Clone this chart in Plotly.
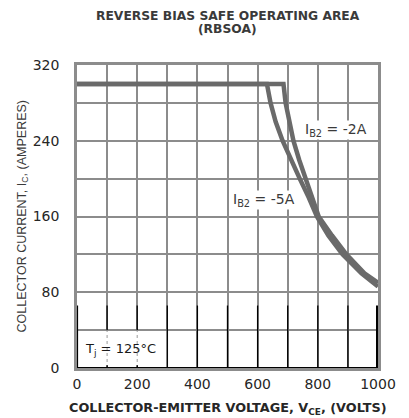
import plotly.graph_objects as go

# ---- data ----
vce_5a = [0, 631, 643, 660, 683, 710, 740, 770, 797, 835, 882, 945, 1000]
ic_5a = [300, 300, 280, 260, 240, 220, 200, 180, 160, 140, 120, 100, 86]
vce_2a = [0, 686, 693, 705, 719, 738, 760, 780, 803, 847, 895, 955, 1000]
ic_2a = [300, 300, 280, 260, 240, 220, 200, 180, 160, 140, 120, 100, 90]
x_ticks = [0, 200, 400, 600, 800, 1000]
y_ticks = [0, 80, 160, 240, 320]

FONT = "Liberation Sans"
WIDE = "DejaVu Sans"
GRID = "#8c8c8c"
CURVE = "#6a6a6a"
TXT = "#262626"

# figure is placed at (8, 8) by the page margin
L, T, PW, PH = 69, 57, 301, 303
W, H = 401, 410


def py(p):  # figure pixel (from top) -> paper y
    return 1 + (T - p) / PH


def px(p):  # figure pixel (from left) -> paper x
    return (p - L) / PW


fig = go.Figure()
fig.add_trace(go.Scatter(x=vce_5a, y=ic_5a, mode="lines",
                         line=dict(color=CURVE, width=4.5), showlegend=False))
fig.add_trace(go.Scatter(x=vce_2a, y=ic_2a, mode="lines",
                         line=dict(color=CURVE, width=4.5), showlegend=False))

shapes = []
shapes.append(dict(type="rect", xref="x", yref="y", x0=0, x1=300, y0=0, y1=40,
                   fillcolor="white", line=dict(color=GRID, width=1.5), layer="between"))
for xv in [300, 400, 500, 600, 700, 800, 900]:
    shapes.append(dict(type="line", xref="x", yref="y", x0=xv, x1=xv, y0=0, y1=66,
                       line=dict(color="black", width=1.3), layer="above"))
for xv in [100, 200]:
    shapes.append(dict(type="line", xref="x", yref="y", x0=xv, x1=xv, y0=40, y1=66,
                       line=dict(color="black", width=1.3), layer="above"))
    shapes.append(dict(type="line", xref="x", yref="y", x0=xv, x1=xv, y0=0, y1=40,
                       line=dict(color="#9a9a9a", width=1, dash="dot"), layer="above"))
    shapes.append(dict(type="line", xref="x", yref="y", x0=xv, x1=xv, y0=0, y1=3,
                       line=dict(color="black", width=1.5), layer="above"))
shapes.append(dict(type="line", xref="x", yref="y", x0=0, x1=0, y0=0, y1=66,
                   line=dict(color="black", width=2.2), layer="above"))
shapes.append(dict(type="line", xref="x", yref="y", x0=1000, x1=1000, y0=0, y1=66,
                   line=dict(color="black", width=4), layer="above"))
shapes.append(dict(type="line", xref="x", yref="y", x0=0, x1=1000, y0=0, y1=0,
                   line=dict(color="black", width=2), layer="above"))

annotations = [
    dict(text="<b>REVERSE BIAS SAFE OPERATING AREA</b>",
         xref="paper", yref="paper", x=0.5, y=py(7.5), xanchor="center", yanchor="middle",
         showarrow=False, font=dict(family=WIDE, size=12.3, color="#3a3a3a")),
    dict(text="<b>(RBSOA)</b>",
         xref="paper", yref="paper", x=0.5, y=py(20.5), xanchor="center", yanchor="middle",
         showarrow=False, font=dict(family=WIDE, size=12.3, color="#3a3a3a")),
    dict(text="COLLECTOR CURRENT, I<sub>C</sub>, (AMPERES)", textangle=-90,
         xref="paper", yref="paper", x=px(14), y=0.5, xanchor="center", yanchor="middle",
         showarrow=False, font=dict(family=FONT, size=12.5, color="#3a3a3a")),
    dict(text="<b>COLLECTOR-EMITTER VOLTAGE, V<sub>CE</sub>, (VOLTS)</b>",
         xref="paper", yref="paper", x=0.5, y=py(400), xanchor="center", yanchor="middle",
         showarrow=False, font=dict(family=WIDE, size=12.8, color="#262626")),
    dict(text="I<sub>B2</sub> = -2A", xref="x", yref="y", x=860, y=251,
         showarrow=False, bgcolor="white", borderpad=0,
         font=dict(family=WIDE, size=14, color="#3a3a3a")),
    dict(text="I<sub>B2</sub> = -5A", xref="x", yref="y", x=621, y=177,
         showarrow=False, bgcolor="white", borderpad=0,
         font=dict(family=WIDE, size=14, color="#3a3a3a")),
    dict(text="T<sub>j</sub> = 125°C", xref="x", yref="y", x=146, y=20,
         showarrow=False,
         font=dict(family=WIDE, size=13, color="#1a1a1a")),
]

fig.update_layout(
    width=W, height=H,
    margin=dict(l=L, r=W - L - PW, t=T, b=H - T - PH),
    paper_bgcolor="white", plot_bgcolor="white",
    font=dict(family=FONT, color=TXT),
    shapes=shapes, annotations=annotations,
    xaxis=dict(range=[0, 1000], tickvals=x_ticks, ticktext=[str(v) for v in x_ticks],
               automargin=False,
               showgrid=True, gridcolor=GRID, gridwidth=1.5,
               minor=dict(dtick=100, tick0=0, showgrid=True, gridcolor=GRID, gridwidth=1.5),
               showline=True, mirror=True, linecolor=GRID, linewidth=2.5,
               zeroline=False, ticks="", ticklabelstandoff=1,
               tickfont=dict(family=WIDE, size=14, color=TXT)),
    yaxis=dict(range=[0, 320], tickvals=y_ticks, ticktext=[str(v) for v in y_ticks],
               automargin=False,
               showgrid=True, gridcolor=GRID, gridwidth=1.5,
               minor=dict(dtick=40, tick0=0, showgrid=True, gridcolor=GRID, gridwidth=1.5),
               showline=True, mirror=True, linecolor=GRID, linewidth=2.5,
               zeroline=False, ticks="", ticklabelstandoff=12,
               tickfont=dict(family=WIDE, size=14, color=TXT)),
)

fig.write_html("out.html")
